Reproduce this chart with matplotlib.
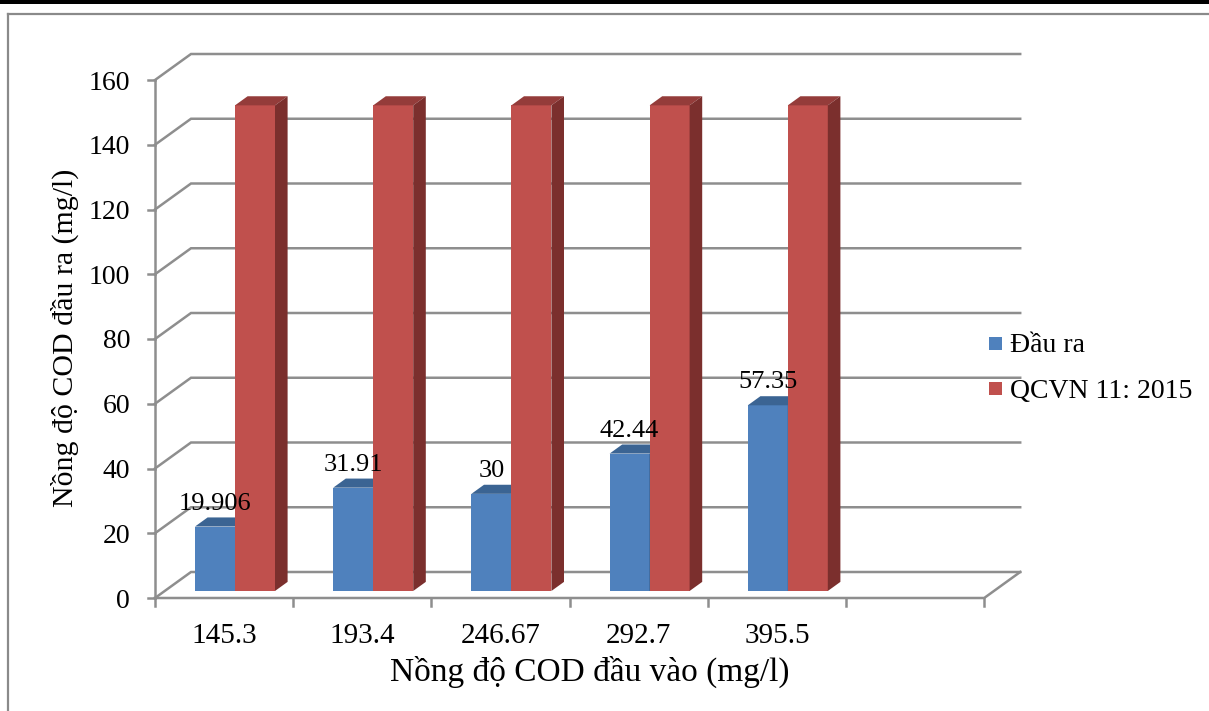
import matplotlib
matplotlib.use("Agg")
import matplotlib.pyplot as plt
from matplotlib.patches import Polygon, Rectangle
from matplotlib.lines import Line2D

# ---- data ----
categories = ["145.3", "193.4", "246.67", "292.7", "395.5"]
dau_ra = [19.906, 31.91, 30, 42.44, 57.35]
qcvn = [150, 150, 150, 150, 150]
series_names = ["Đầu ra", "QCVN 11: 2015"]
y_ticks = [0, 20, 40, 60, 80, 100, 120, 140, 160]
y_title = "Nồng độ COD đầu ra (mg/l)"
x_title = "Nồng độ COD đầu vào (mg/l)"

# ---- style ----
FONT = "Liberation Serif"
FS_LABEL = 19
FS_YTICK = 20
FS_XTICK = 21
FS_LEGEND = 20
FS_XTITLE = 24
FS_YTITLE = 21.5
GRID = "#8e8e8e"
BLUE = ("#4f81bd", "#3b6493", "#2f5077")     # front, top, side
RED = ("#c0504d", "#943c3a", "#7b2f2d")

W, H = 1209, 711
fig = plt.figure(figsize=(W / 100, H / 100), dpi=100)
ax = fig.add_axes([0, 0, 1, 1])

# Projection of the pseudo-3D box: x in category slots, y in mg/l
X0_PX, SLOT_PX = 155.0, 138.2
Y0_PX, UNIT_PX = 598.0, 518.0 / 160.0
ax.set_xlim(-X0_PX / SLOT_PX, (W - X0_PX) / SLOT_PX)
ax.set_ylim((Y0_PX - H) / UNIT_PX, Y0_PX / UNIT_PX)
ax.axis("off")

def px_x(p):
    return p / SLOT_PX

def px_y(p):
    return p / UNIT_PX

DX, DY = px_x(36), px_y(26)          # depth of the floor / side wall
n_slots = len(categories) + 1
ymax = y_ticks[-1]

# Outer chart frame and top rule
fig.add_artist(Line2D([8 / W, 8 / W], [0, 1 - 13.5 / H], transform=fig.transFigure,
                      color="#8a8a8a", lw=1.6))
fig.add_artist(Line2D([8 / W, 1], [1 - 13.5 / H, 1 - 13.5 / H], transform=fig.transFigure,
                      color="#8a8a8a", lw=1.6))
fig.add_artist(Rectangle((0, 1 - 3.5 / H), 1, 3.5 / H, transform=fig.transFigure,
                         color="black", lw=0))

lw = 1.8
# Gridlines: side-wall diagonal + back-wall horizontal
for t in y_ticks:
    ax.plot([0, DX, n_slots + DX], [t, t + DY, t + DY], color=GRID, lw=lw,
            solid_joinstyle="miter", zorder=1)
    ax.plot([-px_x(7), 0], [t, t], color=GRID, lw=lw, zorder=1)
    ax.text(-px_x(25), t, str(t), ha="right", va="center_baseline",
            fontsize=FS_YTICK, family=FONT)
# Vertical axis
ax.plot([0, 0], [0, ymax], color=GRID, lw=lw, zorder=1)
# Floor front edge and right diagonal
ax.plot([0, n_slots, n_slots + DX], [0, 0, DY], color=GRID, lw=lw,
        solid_joinstyle="miter", zorder=1)
for k in range(n_slots + 1):
    ax.plot([k, k], [0, -px_y(8)], color=GRID, lw=lw, zorder=1)
for i, c in enumerate(categories):
    ax.text(i + 0.5, -px_y(45), c, ha="center", va="baseline",
            fontsize=FS_XTICK, family=FONT)

# Bars
BAR_W = px_x(40)
LEFT = px_x(40)
D0, D1 = 0.27, 0.62
bdx, bdy = (D1 - D0) * DX, (D1 - D0) * DY

def bar(x_left, value, cols):
    xl = x_left + D0 * DX
    xr = xl + BAR_W
    b = D0 * DY
    t = value + b
    ax.add_patch(Polygon([(xl, b), (xr, b), (xr, t), (xl, t)], closed=True,
                         fc=cols[0], ec="none", zorder=3))
    ax.add_patch(Polygon([(xl, t), (xr, t), (xr + bdx, t + bdy), (xl + bdx, t + bdy)],
                         closed=True, fc=cols[1], ec="none", zorder=3))
    ax.add_patch(Polygon([(xr, b), (xr, t), (xr + bdx, t + bdy), (xr + bdx, b + bdy)],
                         closed=True, fc=cols[2], ec="none", zorder=3))
    return (xl + xr) / 2, t

for i in range(len(categories)):
    cx, top = bar(i + LEFT - D0 * DX, dau_ra[i], BLUE)
    bar(i + LEFT + BAR_W - D0 * DX, qcvn[i], RED)
    ax.text(cx, top + px_y(17), f"{dau_ra[i]:g}", ha="center", va="baseline",
            fontsize=FS_LABEL, family=FONT, zorder=5)

# Axis titles
ax.text(px_x(65 - X0_PX), px_y(Y0_PX - 338), y_title, rotation=90, ha="center",
        va="center", fontsize=FS_YTITLE, family=FONT)
ax.text(px_x(590 - X0_PX), px_y(Y0_PX - 672), x_title, ha="center", va="center",
        fontsize=FS_XTITLE, family=FONT)

# Legend
for k, (name, col) in enumerate(zip(series_names, (BLUE[0], RED[0]))):
    yc = px_y(Y0_PX - (343 + 46 * k))
    ax.add_patch(Rectangle((px_x(989 - X0_PX), yc - px_y(6.5)), px_x(13), px_y(13),
                           fc=col, ec="none", zorder=4))
    ax.text(px_x(1010 - X0_PX), yc, name, ha="left", va="center_baseline",
            fontsize=FS_LEGEND, family=FONT, zorder=5)

fig.savefig("out.png", dpi=100, facecolor="white")
